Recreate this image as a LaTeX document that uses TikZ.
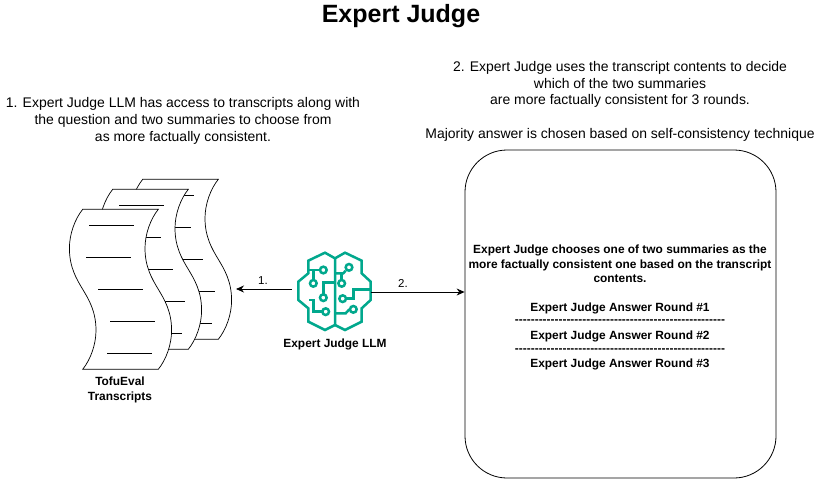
\documentclass[tikz,border=0pt]{standalone}
\usepackage{fontspec}
\setmainfont{Liberation Sans}
\newfontfamily\dashfont{Liberation Sans}
\usetikzlibrary{arrows.meta}
\definecolor{aws}{HTML}{01A88D}
\tikzset{
  lbl/.style={align=center,font=\fontsize{13.95}{16.8}\selectfont,inner sep=0pt},
  blbl/.style={align=center,font=\fontsize{11.9}{14.6}\selectfont\bfseries,inner sep=0pt},
  numlbl/.style={font=\fontsize{11.5}{13}\selectfont,inner sep=0pt},
  conn/.style={draw=black,line width=0.8pt,-{Stealth[length=8pt,width=7pt]}},
  brain/.style={draw=aws,line width=2.5pt,line join=miter},
  docline/.style={draw=black,line width=0.7pt}
}
\newcommand{\tofupage}[2]{%
  \begin{scope}[shift={(#1,#2)}]
    \draw[fill=white,line width=0.7pt] (0,0) .. controls (-8,10) and (-13.3,25) .. (-13.3,39)
      .. controls (-13.3,58) and (-6,70) .. (0,80)
      .. controls (6,90) and (13.3,102) .. (13.3,121)
      .. controls (13.3,135) and (8,150) .. (0,160)
      -- (75.6,160)
      .. controls (83.6,150) and (88.9,135) .. (88.9,121)
      .. controls (88.9,102) and (81.6,90) .. (75.6,80)
      .. controls (69.6,70) and (62.3,58) .. (62.3,39)
      .. controls (62.3,25) and (67.6,10) .. (75.6,0) -- cycle;
    \draw[docline] (6.3,16) -- (51.3,16);
    \draw[docline] (3.3,48) -- (48.3,48);
    \draw[docline] (15.3,80) -- (60.3,80);
    \draw[docline] (27.3,112) -- (72.3,112);
    \draw[docline] (24.3,144) -- (69.3,144);
  \end{scope}}
\begin{document}
\begin{tikzpicture}[x=1pt,y=-1pt]
\useasboundingbox (0,0) rectangle (826,480);
\node[font=\fontsize{25}{28}\selectfont\bfseries,inner sep=0pt] (title) at (401,16) {Expert Judge};
\node[lbl] (left) at (183,121) {1. Expert Judge LLM has access to transcripts along with\\the question and two summaries to choose from\\as more factually consistent.};
\node[lbl] (right) at (620,84.500) {2. Expert Judge uses the transcript contents to decide\\which of the two summaries\\are more factually consistent for 3 rounds.};
\node[lbl] (maj) at (620,135) {Majority answer is chosen based on self-consistency technique};
\tofupage{142.7}{179.3}
\tofupage{112.7}{189.3}
\tofupage{82.7}{209.3}
\node[blbl] (tofu) at (120,390) {TofuEval\\Transcripts};
\node[draw=black,line width=0.8pt,rounded corners=42pt,minimum width=311pt,minimum height=328pt,inner sep=0pt] (box) at (620.5,314) {};
\node[blbl] (c1) at (620,264) {Expert Judge chooses one of two summaries as the\\more factually consistent one based on the transcript\\contents.};
\node[blbl] (r1) at (620,308) {Expert Judge Answer Round \#1};
\node[blbl,font=\fontsize{11.9}{14}\selectfont\dashfont\bfseries] (d1) at (620,322) {-----------------------------------------------------};
\node[blbl] (r2) at (620,336) {Expert Judge Answer Round \#2};
\node[blbl,font=\fontsize{11.9}{14}\selectfont\dashfont\bfseries] (d2) at (620,351) {-----------------------------------------------------};
\node[blbl] (r3) at (620,364.500) {Expert Judge Answer Round \#3};
\coordinate (ic) at (334,290);
\node[minimum width=76pt,minimum height=78pt,inner sep=0pt] (llm) at (ic) {};
\begin{scope}[shift={(280,240)},x=0.3333pt,y=-0.3333pt]
  \draw[brain] (165,55) -- (135,38) -- (85,62) -- (85,100) -- (55,125) -- (55,180) -- (85,205) -- (85,245) -- (135,270) -- (165,255) -- cycle;
  \draw[brain] (165,55) -- (195,38) -- (245,62) -- (245,100) -- (272,125) -- (272,180) -- (245,205) -- (245,245) -- (195,270) -- (165,255);
  \draw[brain] (85,90) -- (118,90);
  \draw[brain] (100,90) -- (100,118);
  \draw[brain] (130,90) circle (10);
  \draw[brain] (100,130) circle (10);
  \draw[brain] (130,173) circle (10);
  \draw[brain] (130,162) -- (130,128) -- (165,128);
  \draw[brain] (88,180) -- (100,180) -- (100,215) -- (125,215);
  \draw[brain] (137,215) circle (10);
  \draw[brain] (207,82) circle (10);
  \draw[brain] (197,92) -- (190,100) -- (165,100);
  \draw[brain] (185,100) -- (185,118);
  \draw[brain] (185,130) circle (10);
  \draw[brain] (188,176) circle (10);
  \draw[brain] (200,176) -- (220,176) -- (220,148) -- (272,148);
  \draw[brain] (220,208) circle (10);
  \draw[brain] (208,208) -- (197,220) -- (165,220);
\end{scope}
\node[blbl] (llmlbl) at (335,344) {Expert Judge LLM};
\draw[conn] (292,289) -- (236,289);
\draw[conn] (371,292) -- (box.west |- 0,292);
\node[numlbl] (n1) at (263,281) {1.};
\node[numlbl] (n2) at (403,283) {2.};
\end{tikzpicture}
\end{document}
